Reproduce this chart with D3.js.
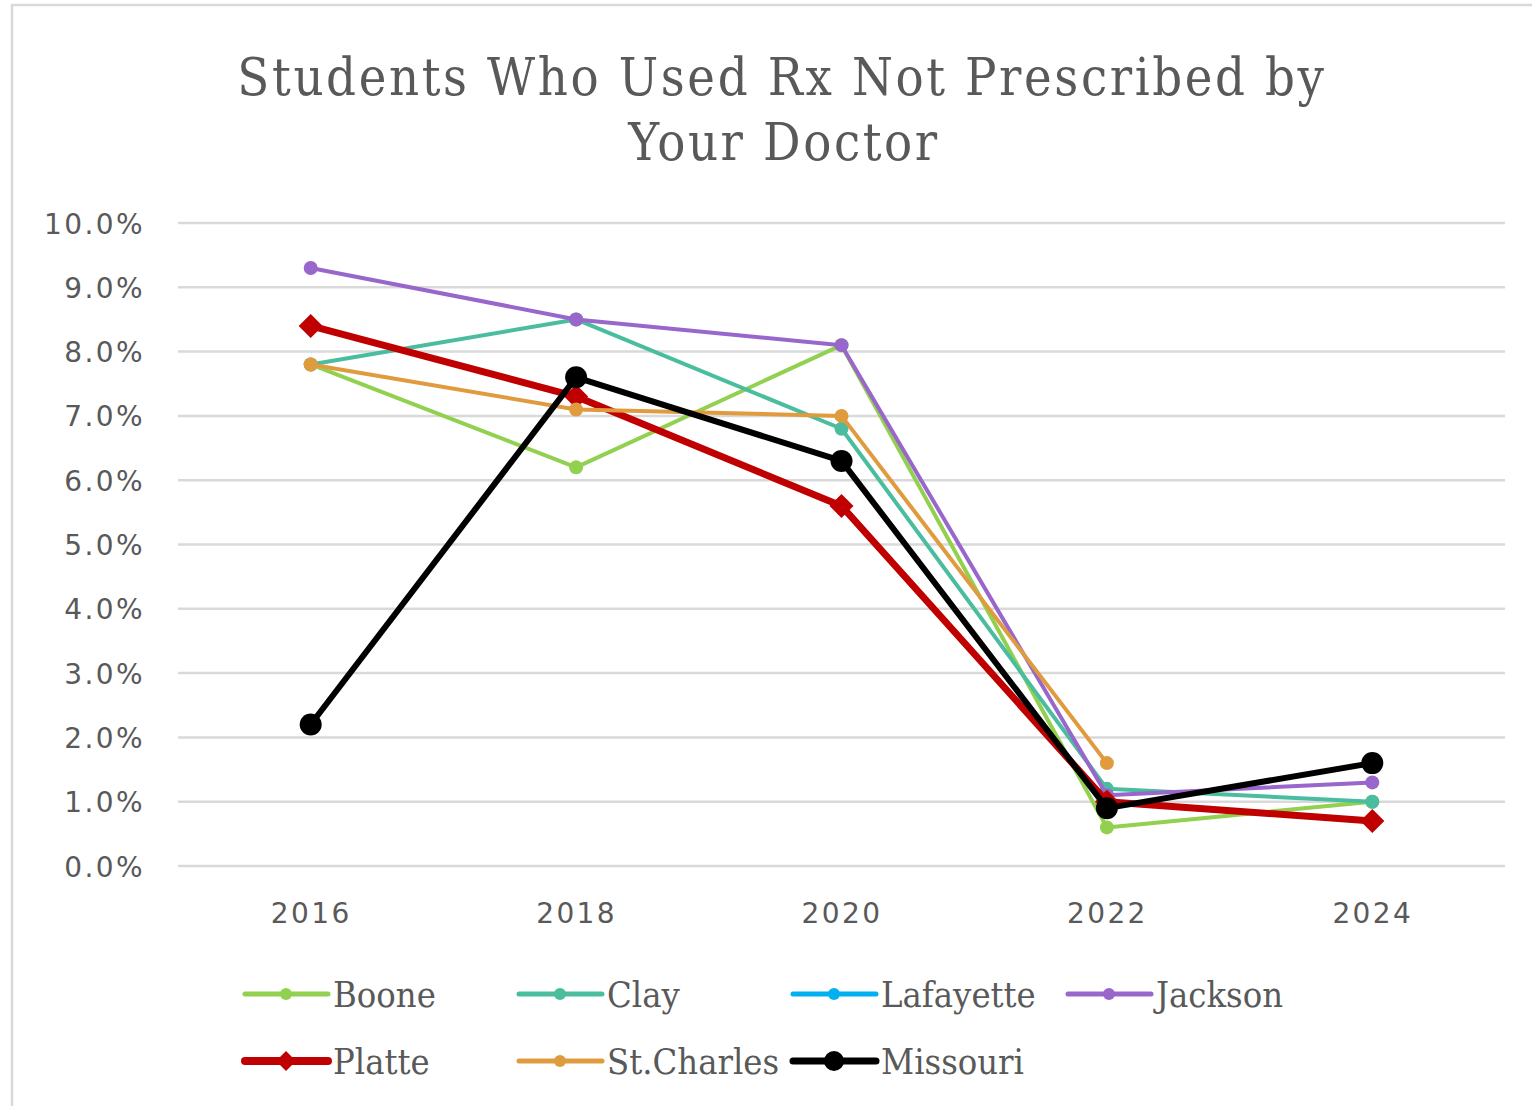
<!DOCTYPE html>
<html>
<head>
<meta charset="utf-8">
<script src="https://cdn.jsdelivr.net/npm/d3@7"></script>
<style>
  body { margin: 0; background: #fff; }
  svg { display: block; }
</style>
</head>
<body>
<div id="chart"></div>
<script>
// data
var years = ["2016", "2018", "2020", "2022", "2024"];
var yTicks = [0, 1, 2, 3, 4, 5, 6, 7, 8, 9, 10];

var boone      = [7.8, 6.2, 8.1, 0.6, 1.0];
var clay       = [7.8, 8.5, 6.8, 1.2, 1.0];
var lafayette  = [null, null, null, null, null];
var jackson    = [9.3, 8.5, 8.1, 1.1, 1.3];
var platte     = [8.4, 7.3, 5.6, 1.0, 0.7];
var stCharles  = [7.8, 7.1, 7.0, 1.6, null];
var missouri   = [2.2, 7.6, 6.3, 0.9, 1.6];

var seriesNames = ["Boone", "Clay", "Lafayette", "Jackson", "Platte", "St.Charles", "Missouri"];

var series = [
  { name: "Boone", values: boone, color: "#92D050", width: 4, marker: "circle", r: 7 },
  { name: "Clay", values: clay, color: "#4BBD9F", width: 4, marker: "circle", r: 7 },
  { name: "Lafayette", values: lafayette, color: "#00B0F0", width: 4, marker: "circle", r: 7 },
  { name: "Jackson", values: jackson, color: "#9966CC", width: 4, marker: "circle", r: 7 },
  { name: "Platte", values: platte, color: "#C00000", width: 7, marker: "diamond", r: 12 },
  { name: "St.Charles", values: stCharles, color: "#E09B3F", width: 4, marker: "circle", r: 7 },
  { name: "Missouri", values: missouri, color: "#000000", width: 6, marker: "circle", r: 11 }
];

var width = 1532, height = 1106;
var margin = { top: 223, right: 27, bottom: 240, left: 178 };
var textColor = "#595959";

var svg = d3.select("#chart").append("svg")
  .attr("width", width)
  .attr("height", height);

// chart frame
svg.append("rect")
  .attr("x", 12).attr("y", 5)
  .attr("width", width).attr("height", height)
  .attr("fill", "none")
  .attr("stroke", "#d9d9d9")
  .attr("stroke-width", 2.5);

// title
var title = svg.append("text")
  .attr("text-anchor", "middle")
  .style("font-family", "'DejaVu Serif Condensed', 'DejaVu Serif', serif")
  .style("font-stretch", "condensed")
  .style("font-size", "52px")
  .style("letter-spacing", "2.6px")
  .attr("fill", textColor);
title.append("tspan").attr("x", 782).attr("y", 95).text("Students Who Used Rx Not Prescribed by");
title.append("tspan").attr("x", 784).attr("y", 160).text("Your Doctor");

var x = d3.scalePoint()
  .domain(years)
  .range([margin.left, width - margin.right])
  .padding(0.5);

var y = d3.scaleLinear()
  .domain([0, 10])
  .range([height - margin.bottom, margin.top]);

// gridlines
svg.append("g")
  .selectAll("line")
  .data(yTicks)
  .join("line")
  .attr("x1", margin.left)
  .attr("x2", width - margin.right)
  .attr("y1", function(d) { return y(d); })
  .attr("y2", function(d) { return y(d); })
  .attr("stroke", "#d9d9d9")
  .attr("stroke-width", 2.5);

// y axis
var yAxis = d3.axisLeft(y)
  .tickValues(yTicks)
  .tickSize(0)
  .tickPadding(33)
  .tickFormat(function(d) { return d.toFixed(1) + "%"; });
var gy = svg.append("g")
  .attr("transform", "translate(" + margin.left + ",0)")
  .call(yAxis);
gy.select(".domain").remove();
gy.selectAll("text")
  .attr("dy", "0.36em")
  .style("font-family", "'DejaVu Sans', sans-serif")
  .style("font-size", "28px")
  .style("letter-spacing", "2.4px")
  .attr("fill", textColor);

// x axis
var xAxis = d3.axisBottom(x).tickSize(0).tickPadding(37);
var gx = svg.append("g")
  .attr("transform", "translate(0," + (height - margin.bottom) + ")")
  .call(xAxis);
gx.select(".domain").remove();
gx.selectAll("text")
  .style("font-family", "'DejaVu Sans', sans-serif")
  .style("font-size", "28px")
  .style("letter-spacing", "2.4px")
  .attr("fill", textColor);

var line = d3.line()
  .defined(function(d) { return d != null; })
  .x(function(d, i) { return x(years[i]); })
  .y(function(d) { return y(d); });

function drawMarker(g, s, cx, cy) {
  if (s.marker == "diamond") {
    g.append("path")
      .attr("d", "M" + cx + "," + (cy - s.r) + "L" + (cx + s.r) + "," + cy + "L" + cx + "," + (cy + s.r) + "L" + (cx - s.r) + "," + cy + "Z")
      .attr("fill", s.color);
  } else {
    g.append("circle")
      .attr("cx", cx).attr("cy", cy).attr("r", s.r)
      .attr("fill", s.color);
  }
}

series.forEach(function(s) {
  var g = svg.append("g");
  g.append("path")
    .datum(s.values)
    .attr("d", line)
    .attr("fill", "none")
    .attr("stroke", s.color)
    .attr("stroke-width", s.width)
    .attr("stroke-linejoin", "round");
  s.values.forEach(function(v, i) {
    if (v == null) return;
    drawMarker(g, s, x(years[i]), y(v));
  });
});

// legend
var legendCols = [245, 519, 793, 1068];
var legendRows = [994, 1061];
series.forEach(function(s, i) {
  var col = i < 4 ? i : i - 4;
  var row = i < 4 ? 0 : 1;
  var lx = legendCols[col], ly = legendRows[row];
  var g = svg.append("g");
  g.append("line")
    .attr("x1", lx).attr("x2", lx + 83)
    .attr("y1", ly).attr("y2", ly)
    .attr("stroke", s.color)
    .attr("stroke-width", s.width + 1)
    .attr("stroke-linecap", "round");
  drawMarker(g, { marker: s.marker, r: s.marker == "diamond" ? 10 : (s.r > 8 ? 10 : 6), color: s.color }, lx + 41, ly);
  g.append("text")
    .attr("x", lx + 88)
    .attr("y", ly + 13)
    .style("font-family", "'DejaVu Serif Condensed', 'DejaVu Serif', serif")
    .style("font-stretch", "condensed")
    .style("font-size", "36px")
    .attr("fill", textColor)
    .text(seriesNames[i]);
});
</script>
</body>
</html>
